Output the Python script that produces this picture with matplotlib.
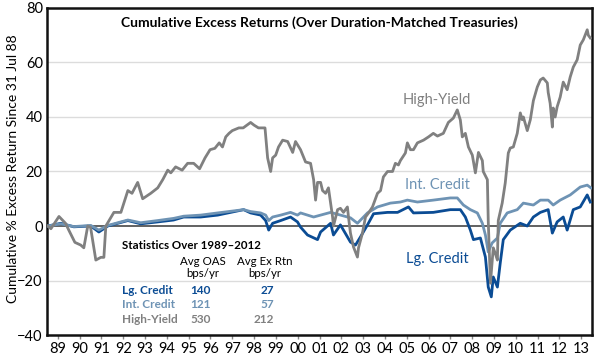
import numpy as np
import matplotlib.pyplot as plt

plt.rcParams['font.family'] = ['Lato', 'DejaVu Sans']

# decimal years, cumulative % excess return
lg_x = [1988.54, 1989.14, 1989.73, 1990.51, 1990.88, 1991.29, 1991.75, 1992.21, 1992.80, 1993.58,
        1994.31, 1994.77, 1995.55, 1996.33, 1997.52, 1997.84, 1998.30, 1998.53, 1998.67, 1998.85,
        1999.22, 1999.67, 1999.99, 2000.13, 2000.45, 2000.91, 2001.05, 2001.51, 2001.64, 2001.96,
        2002.42, 2002.65, 2002.88, 2003.20, 2003.48, 2004.12, 2004.58, 2005.08, 2005.31, 2006.22,
        2007.00, 2007.46, 2007.69, 2007.92, 2008.06, 2008.38, 2008.61, 2008.74, 2008.88, 2008.97,
        2009.16, 2009.29, 2009.43, 2009.75, 2010.21, 2010.53, 2010.81, 2011.13, 2011.49, 2011.68,
        2011.90, 2012.18, 2012.36, 2012.64, 2012.96, 2013.28, 2013.42]
lg_y = [0, 1, -0.3, 0, -2.2, 0, 1, 2, 0.8, 1.5,
        2.2, 3.3, 3.3, 4, 6, 4.8, 4, 2, -1.5, 1,
        2, 3.3, 1.5, -0.4, -3.3, -5, -2.2, 1, -3.3, 0.4,
        -5.9, -7, -4, 0.4, 4.5, 5, 5, 7, 4.8, 5,
        6, 6, 3.3, -1.5, -5, -4.4, -11.4, -22.4, -26, -18.7,
        -22.4, -13.6, -5, -1.5, 1, 0, 3.3, 5, 6, -2.6,
        1.5, 3.3, -1.5, 6, 7, 11.4, 8.8]

int_x = [1988.54, 1989.14, 1989.73, 1990.51, 1990.88, 1991.29, 1991.75, 1992.21, 1992.80, 1993.58,
         1994.31, 1994.77, 1995.55, 1996.33, 1997.52, 1997.84, 1998.30, 1998.53, 1998.67, 1998.85,
         1999.22, 1999.67, 1999.99, 2000.13, 2000.73, 2001.05, 2001.51, 2002.42, 2002.74, 2003.20,
         2003.66, 2004.25, 2004.71, 2005.03, 2005.49, 2006.22, 2007.00, 2007.32, 2007.60, 2007.92,
         2008.24, 2008.47, 2008.61, 2008.74, 2008.92, 2009.16, 2009.29, 2009.61, 2010.07, 2010.35,
         2010.81, 2011.13, 2011.49, 2011.72, 2012.04, 2012.50, 2012.96, 2013.28, 2013.45]
int_y = [0, 0.8, -0.2, 0.2, -1.5, 0.2, 1.2, 2.2, 1.2, 2,
         2.8, 3.6, 4, 4.8, 6, 5.3, 4.8, 4, 2, 3.3,
         4, 5, 4, 4.8, 3.3, 4, 5, 3, 1, 4.8,
         7, 8.4, 8.8, 9.5, 8.8, 9.5, 10.3, 10.3, 7.7, 6,
         4.8, 1, -3.3, -9.5, -6.2, -4.4, 1, 4.8, 6, 8.4,
         7.7, 9.5, 9.5, 7.7, 9.5, 11.4, 14.3, 15, 14]

hy_x = [1988.54, 1988.68, 1989.05, 1989.35, 1989.50, 1989.78, 1990.05, 1990.19, 1990.37, 1990.50,
        1990.74, 1990.97, 1991.11, 1991.20, 1991.57, 1991.89, 1992.21, 1992.40, 1992.66, 1992.89,
        1993.26, 1993.58, 1993.81, 1994.04, 1994.18, 1994.40, 1994.70, 1994.95, 1995.23, 1995.50,
        1995.75, 1995.98, 1996.20, 1996.40, 1996.55, 1996.70, 1996.85, 1997.00, 1997.30, 1997.50,
        1997.84, 1998.00, 1998.20, 1998.50, 1998.62, 1998.76, 1998.85, 1998.99, 1999.12, 1999.31,
        1999.54, 1999.77, 1999.90, 2000.13, 2000.36, 2000.59, 2000.73, 2000.82, 2000.91, 2001.05,
        2001.14, 2001.28, 2001.41, 2001.60, 2001.64, 2001.83, 2001.96, 2002.10, 2002.28, 2002.33,
        2002.42, 2002.56, 2002.74, 2002.79, 2002.97, 2003.11, 2003.25, 2003.43, 2003.66, 2003.80,
        2003.93, 2004.12, 2004.35, 2004.48, 2004.62, 2004.71, 2004.94, 2005.03, 2005.17, 2005.31,
        2005.49, 2005.77, 2006.00, 2006.22, 2006.41, 2006.68, 2006.91, 2007.14, 2007.32, 2007.46,
        2007.55, 2007.69, 2007.83, 2008.01, 2008.15, 2008.29, 2008.47, 2008.51, 2008.70, 2008.74,
        2008.84, 2008.97, 2009.06, 2009.16, 2009.20, 2009.38, 2009.52, 2009.66, 2009.75, 2009.89,
        2010.07, 2010.21, 2010.30, 2010.35, 2010.53, 2010.67, 2010.81, 2010.99, 2011.13, 2011.26,
        2011.45, 2011.49, 2011.58, 2011.68, 2011.72, 2011.81, 2011.90, 2012.04, 2012.18, 2012.36,
        2012.50, 2012.64, 2012.82, 2012.96, 2013.10, 2013.28, 2013.33, 2013.42]
hy_y = [0, -1, 3.5, 1, -1.5, -6, -7, -8, 0, -0.5,
        -12.5, -11.5, -11.5, 0, 5, 5, 13, 12, 16, 10,
        12, 14, 17, 20.5, 19.5, 21.7, 20.5, 23, 23, 21,
        25, 28, 28.5, 30.5, 29, 32.7, 34, 35, 36, 36,
        38, 37, 36, 36, 25, 20, 25, 26, 29, 31.5,
        31, 27, 31, 28, 23.5, 23, 17, 9.5, 16, 16,
        13, 12, 14, 3.3, 0, 6, 6.5, 5, 7, 3.3,
        -2.6, -7.7, -11.4, -8, -2.6, 3.3, 4.8, 7, 12, 13,
        18, 20, 20, 23, 22.4, 24, 26.8, 30.5, 28, 28,
        30.5, 31.5, 32.7, 34, 33, 34, 38, 39.6, 42.6, 38.9,
        32.7, 34, 29, 26, 19.5, 27, 24, 20, 17, 2,
        -21, -8, -10, -12.5, 2, 8.4, 15.8, 26.8, 28.6, 29,
        34, 41.5, 39, 40, 35, 39, 46, 51, 53.6, 54.3,
        52.5, 49, 45, 36.3, 43.3, 40, 43.7, 47.3, 52.8, 50,
        54.7, 58.3, 61, 66.4, 68.3, 72, 70, 69]

years = list(range(1989, 2014))
year_labels = ["%02d" % (y % 100) for y in years]

stat_names = ["Lg. Credit", "Int. Credit", "High-Yield"]
avg_oas = [140, 121, 530]
avg_ex_rtn = [27, 57, 212]

c_lg = "#0b4c94"
c_int = "#6e93b4"
c_hy = "#808080"

fig = plt.figure(figsize=(6, 3.58), dpi=100)
ax = fig.add_axes([0.0783, 0.0642, 0.9084, 0.9135])

for v in [-20, 20, 40, 60]:
    ax.axhline(v, color="#dcdcdc", lw=1, zorder=1)
ax.axhline(0, color="#555555", lw=1.3, zorder=2)

ax.plot(lg_x, lg_y, color=c_lg, lw=2, zorder=3)
ax.plot(int_x, int_y, color=c_int, lw=2, zorder=3)
ax.plot(hy_x, hy_y, color=c_hy, lw=2, zorder=4)

ax.set_xlim(1988.5, 2013.5)
ax.set_ylim(-40, 80)
ax.set_yticks([-40, -20, 0, 20, 40, 60, 80])
ax.set_xticks(years)
ax.set_xticklabels(year_labels)
ax.tick_params(axis="y", length=0, labelsize=10.5, pad=3)
ax.tick_params(axis="x", length=3, width=1, color="#888888", labelsize=10.5, pad=2)
for s in ax.spines.values():
    s.set_linewidth(1.8)
    s.set_color("#111111")

fig.text(0.021, 0.53, "Cumulative % Excess Return Since 31 Jul 88", rotation=90,
         ha="center", va="center", fontsize=10)

ax.text(0.5, 0.955, "Cumulative Excess Returns (Over Duration-Matched Treasuries)",
        transform=ax.transAxes, ha="center", va="center", fontsize=10, fontweight="bold")

ax.text(2006.4, 46.3, "High-Yield", color=c_hy, fontsize=10.5, ha="center", va="center")
ax.text(2006.4, 15, "Int. Credit", color=c_int, fontsize=10.5, ha="center", va="center")
ax.text(2006.4, -12, "Lg. Credit", color=c_lg, fontsize=10.5, ha="center", va="center")

# statistics table
ax.text(1991.93, -7, "Statistics Over 1989\u20132012", fontsize=8.3, fontweight="bold", va="center")
ax.text(1995.64, -13.2, "Avg OAS", fontsize=8.3, ha="center", va="center")
ax.text(1995.64, -17.6, "bps/yr", fontsize=8.3, ha="center", va="center")
ax.text(1998.48, -13.2, "Avg Ex Rtn", fontsize=8.3, ha="center", va="center")
ax.text(1998.48, -17.6, "bps/yr", fontsize=8.3, ha="center", va="center")
row_y = [-23.5, -28.8, -34.2]
for name, oas, rtn, yy, c in zip(stat_names, avg_oas, avg_ex_rtn, row_y, [c_lg, c_int, c_hy]):
    ax.text(1991.93, yy, name, color=c, fontsize=8.5, fontweight="bold", va="center")
    ax.text(1996.01, yy, str(oas), color=c, fontsize=8.5, fontweight="bold", va="center", ha="right")
    ax.text(1998.9, yy, str(rtn), color=c, fontsize=8.5, fontweight="bold", va="center", ha="right")

fig.savefig("out.png", dpi=100)
